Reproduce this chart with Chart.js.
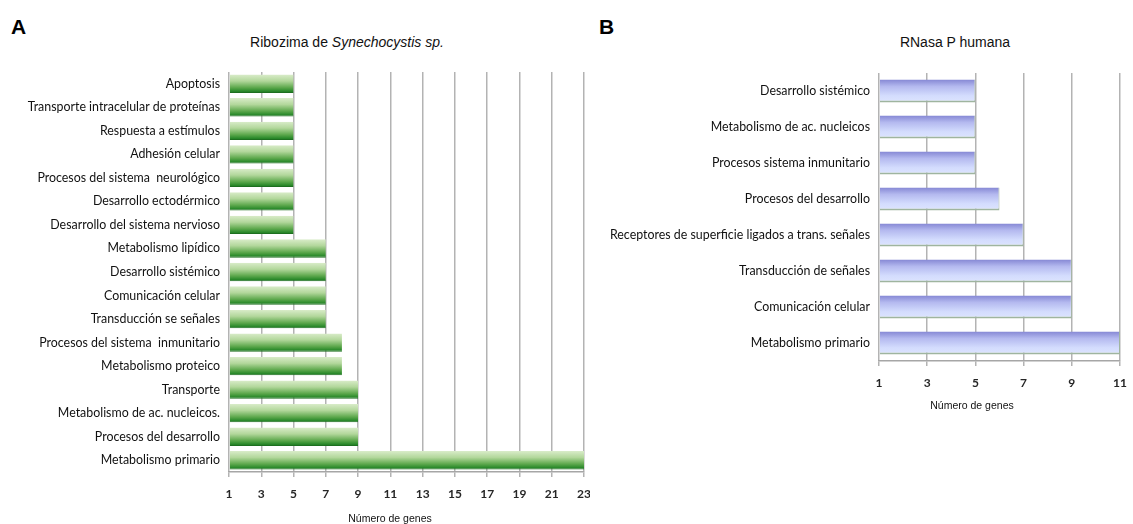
<!DOCTYPE html>
<html>
<head>
<meta charset="utf-8">
<script src="https://cdn.jsdelivr.net/npm/chart.js@4.4.1/dist/chart.umd.min.js"></script>
<style>
  html, body { margin:0; padding:0; background:#fff; }
  body { width:1133px; height:524px; position:relative; overflow:hidden; font-family:"Liberation Sans", Arial, sans-serif; }
  .panel { position:absolute; font-weight:bold; font-size:21px; color:#000; font-family:"Liberation Sans", Arial, sans-serif; }
  .title { position:absolute; font-size:14px; color:#111; white-space:nowrap; transform:translateX(-50%); }
  .axtitle { position:absolute; font-size:10.5px; color:#111; white-space:nowrap; transform:translateX(-50%); line-height:12px; }
  canvas { position:absolute; }
</style>
</head>
<body>
<div class="panel" style="left:11px; top:15px;">A</div>
<div class="panel" style="left:599px; top:15px;">B</div>
<div class="title" style="left:347px; top:34px;">Ribozima de <i>Synechocystis sp.</i></div>
<div class="title" style="left:955px; top:34px;">RNasa P humana</div>
<canvas id="chartA" width="590" height="464" style="left:0px; top:60px;"></canvas>
<canvas id="chartB" width="543" height="352" style="left:590px; top:60px;"></canvas>
<div class="axtitle" id="axA" style="left:390px; top:512px;"></div>
<div class="axtitle" id="axB" style="left:972px; top:399px;"></div>
<script>
// ---- Data: Panel A (Ribozima de Synechocystis sp.) ----
const categoriesA = [
  "Apoptosis",
  "Transporte intracelular de proteínas",
  "Respuesta a estímulos",
  "Adhesión celular",
  "Procesos del sistema  neurológico",
  "Desarrollo ectodérmico",
  "Desarrollo del sistema nervioso",
  "Metabolismo lipídico",
  "Desarrollo sistémico",
  "Comunicación celular",
  "Transducción se señales",
  "Procesos del sistema  inmunitario",
  "Metabolismo proteico",
  "Transporte",
  "Metabolismo de ac. nucleicos.",
  "Procesos del desarrollo",
  "Metabolismo primario"
];
const valuesA = [5, 5, 5, 5, 5, 5, 5, 7, 7, 7, 7, 8, 8, 9, 9, 9, 23];
const ticksA = [1, 3, 5, 7, 9, 11, 13, 15, 17, 19, 21, 23];

// ---- Data: Panel B (RNasa P humana) ----
const categoriesB = [
  "Desarrollo sistémico",
  "Metabolismo de ac. nucleicos",
  "Procesos sistema inmunitario",
  "Procesos del desarrollo",
  "Receptores de superficie ligados a trans. señales",
  "Transducción de señales",
  "Comunicación celular",
  "Metabolismo primario"
];
const valuesB = [5, 5, 5, 6, 7, 9, 9, 11];
const ticksB = [1, 3, 5, 7, 9, 11];

const axisTitle = "Número de genes";
document.getElementById('axA').textContent = axisTitle;
document.getElementById('axB').textContent = axisTitle;

function gradientFill(stops, catPct, fallback) {
  return function(ctx) {
    const chart = ctx.chart;
    const area = chart.chartArea;
    if (!area || ctx.type !== 'data' || !chart.scales.y) return fallback;
    const n = chart.data.labels.length;
    const pitch = (area.bottom - area.top) / n;
    const h = pitch * catPct;
    const yc = chart.scales.y.getPixelForValue(ctx.dataIndex);
    const g = chart.ctx.createLinearGradient(0, yc - h / 2, 0, yc + h / 2);
    stops.forEach(s => g.addColorStop(s[0], s[1]));
    return g;
  };
}

function makeChart(id, labels, values, ticks, cfg) {
  const tickMin = ticks[0], tickMax = ticks[ticks.length - 1];
  return new Chart(document.getElementById(id), {
    type: 'bar',
    data: {
      labels: labels,
      datasets: [{
        data: values,
        base: tickMin,
        backgroundColor: gradientFill(cfg.stops, cfg.catPct, cfg.fallback),
        borderColor: cfg.borderColor,
        borderWidth: cfg.borderWidth,
        borderSkipped: false,
        barPercentage: 1,
        categoryPercentage: cfg.catPct
      }]
    },
    options: {
      indexAxis: 'y',
      responsive: false,
      maintainAspectRatio: false,
      animation: false,
      devicePixelRatio: 1,
      layout: { padding: cfg.padding },
      plugins: { legend: { display: false }, tooltip: { enabled: false }, title: { display: false } },
      scales: {
        x: {
          type: 'linear',
          min: tickMin,
          max: tickMax,
          afterBuildTicks: (scale) => { scale.ticks = ticks.map(v => ({ value: v })); },
          grid: { color: '#b3b3b3', lineWidth: 1.5, tickLength: 5, drawTicks: true },
          border: { display: true, color: '#a6a6a6', width: 1.5 },
          ticks: {
            color: '#262626',
            padding: cfg.xTickPad,
            font: { family: 'Lato', size: 12, weight: 'bold' },
            maxRotation: 0
          },
          title: { display: false, text: axisTitle },
          afterFit: (scale) => {
            scale.height = cfg.xHeight;
            scale.paddingLeft = 0; scale.paddingRight = 0;
          }
        },
        y: {
          grid: { display: false },
          border: { display: false },
          ticks: {
            color: '#111',
            padding: cfg.yTickPad,
            autoSkip: false,
            font: { family: 'Lato', size: 12.4 }
          },
          afterFit: (scale) => {
            scale.width = cfg.yWidth;
            scale.paddingTop = 0; scale.paddingBottom = 0;
          }
        }
      }
    }
  });
}

makeChart('chartA', categoriesA, valuesA, ticksA, {
  stops: [[0, '#d9ecc9'], [0.35, '#b2d79b'], [0.7, '#5fa94e'], [0.9, '#2b8a2b'], [1, '#1d6f1f']],
  fallback: '#5fa94e',
  borderColor: '#1d6f1f',
  borderWidth: { top: 0, left: 0, right: 0, bottom: 1 },
  catPct: 0.78,
  padding: { top: 12, right: 6, left: 0, bottom: 0 },
  xHeight: 52,
  xTickPad: 10,
  yTickPad: 1,
  yWidth: 229
});

makeChart('chartB', categoriesB, valuesB, ticksB, {
  stops: [[0, '#8587d4'], [0.3, '#b4b9ef'], [0.7, '#d3dcfd'], [1, '#dde5ff']],
  fallback: '#b4b9ef',
  borderColor: '#9fb59f',
  borderWidth: { top: 0, left: 0, right: 1, bottom: 2 },
  catPct: 0.64,
  padding: { top: 13, right: 13, left: 0, bottom: 0 },
  xHeight: 51,
  xTickPad: 10,
  yTickPad: 1,
  yWidth: 289
});
</script>
</body>
</html>
